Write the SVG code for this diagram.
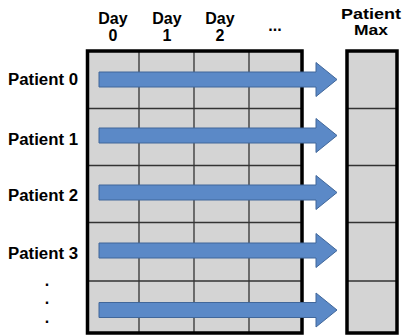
<svg xmlns="http://www.w3.org/2000/svg" width="403" height="336" viewBox="0 0 403 336">
<style>
text{font-family:"Liberation Sans",Arial,sans-serif;font-weight:bold;font-size:16px;fill:#000}
.mid{text-anchor:middle}
.small{font-size:14px}
.cell{fill:#d4d4d4}
.inner{stroke:#333;stroke-width:1.3;fill:none}
.frame{fill:none;stroke:#000;stroke-width:3.5}
.arrow{fill:#5b89c7;stroke:#41679a;stroke-width:1}
</style>
<defs>
<path id="arr" d="M99,-7.5 H316 V-17 L337,0 L316,17 V7.5 H99 Z"/>
</defs>
<rect width="403" height="336" fill="#fff"/>
<g id="header">
<text class="mid" x="113" y="23.5">Day</text>
<text class="mid" x="113" y="41">0</text>
<text class="mid" x="167" y="23.5">Day</text>
<text class="mid" x="167" y="41">1</text>
<text class="mid" x="220" y="23.5">Day</text>
<text class="mid" x="220" y="41">2</text>
<text class="mid" x="275" y="31">...</text>
<text class="mid small" x="371" y="19" textLength="60" lengthAdjust="spacingAndGlyphs">Patient</text>
<text class="mid small" x="371" y="34.5" textLength="34" lengthAdjust="spacingAndGlyphs">Max</text>
</g>
<g id="labels">
<text x="8" y="85" textLength="70" lengthAdjust="spacingAndGlyphs">Patient 0</text>
<text x="8" y="145" textLength="70" lengthAdjust="spacingAndGlyphs">Patient 1</text>
<text x="8" y="201" textLength="70" lengthAdjust="spacingAndGlyphs">Patient 2</text>
<text x="8" y="259" textLength="70" lengthAdjust="spacingAndGlyphs">Patient 3</text>
<text class="mid" x="47" y="286">.</text>
<text class="mid" x="47" y="304">.</text>
<text class="mid" x="47" y="323">.</text>
</g>
<g id="grid">
<rect class="cell" x="87.5" y="51" width="214.5" height="282"/>
<path class="inner" d="M139,51V333M194,51V333M249,51V333M87.5,108.5H302M87.5,165.5H302M87.5,222.5H302M87.5,281H302"/>
<rect class="frame" x="87.5" y="51" width="214.5" height="282"/>
</g>
<g id="maxcol">
<rect class="cell" x="347" y="51" width="50" height="282"/>
<path class="inner" d="M347,108.5H397M347,165.5H397M347,222.5H397M347,281H397"/>
<rect class="frame" x="347" y="51" width="50" height="282"/>
</g>
<g id="connectors">
<use href="#arr" class="arrow" transform="translate(0,79.5)"/>
<use href="#arr" class="arrow" transform="translate(0,135.5)"/>
<use href="#arr" class="arrow" transform="translate(0,192.5)"/>
<use href="#arr" class="arrow" transform="translate(0,250.5)"/>
<use href="#arr" class="arrow" transform="translate(0,310)"/>
</g>
</svg>
